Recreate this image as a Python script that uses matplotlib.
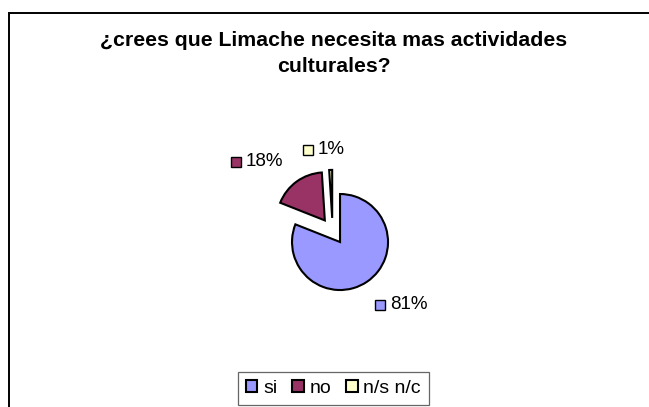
import math

import matplotlib
matplotlib.use("Agg")
from matplotlib import pyplot as plt
from matplotlib.patches import Rectangle

plt.rcParams['font.family'] = ['Liberation Sans', 'DejaVu Sans']

# data
categories = ['si', 'no', 'n/s n/c']
shares = [81, 18, 1]
label_texts = ['81%', '18%', '1%']
colors = ['#9999FF', '#993366', '#FFFFCC']
title_lines = ['¿crees que Limache necesita mas actividades', 'culturales?']

# layout (pixels, figure is 649x407 at 100 dpi)
W, H = 649, 407
center = (332.6, H - 231.1)
radius = 48
explode_px = 13.2
# offset of each label's key square from the middle of its wedge's arc
label_offsets = [(13, -23), (-61, 20), (-23, 20)]

fig = plt.figure(figsize=(W / 100, H / 100), dpi=100)
ax = fig.add_axes([0, 0, 1, 1])

# chart border, running off the right and bottom edges
ax.add_patch(Rectangle((9, -20), W + 20, H - 13 + 20, fill=False,
                       edgecolor='black', linewidth=1.4))

wedges, _ = ax.pie(shares, colors=colors, startangle=90, counterclock=False,
                   center=center, radius=radius,
                   explode=[explode_px] * len(shares),
                   wedgeprops=dict(edgecolor='black', linewidth=1.5),
                   frame=True)
ax.set_xlim(0, W)
ax.set_ylim(0, H)
ax.set_axis_off()
ax.set_aspect('auto')

for wedge, text, color, (dx, dy) in zip(wedges, label_texts, colors, label_offsets):
    mid = math.radians((wedge.theta1 + wedge.theta2) / 2)
    cx, cy = wedge.center
    kx = cx + wedge.r * math.cos(mid) + dx
    ky = cy + wedge.r * math.sin(mid) + dy
    ax.plot(kx, ky, marker='s', markersize=7.5, markerfacecolor=color,
            markeredgecolor='black', markeredgewidth=1.0)
    ax.text(kx + 10, ky, text, ha='left', va='center', fontsize=13.5)

fig.text(333.8 / W, 1 - 45.7 / H, title_lines[0], ha='center', va='baseline',
         fontsize=15.3, fontweight='bold')
fig.text(333.8 / W, 1 - 72.5 / H, title_lines[1], ha='center', va='baseline',
         fontsize=15.3, fontweight='bold')

leg = fig.legend(wedges, categories, loc='upper left',
                 bbox_to_anchor=(238 / W, 1 - 372 / H), ncol=3,
                 fontsize=14, frameon=True, fancybox=False, shadow=False,
                 handlelength=0.6, handleheight=0.6, handletextpad=0.3,
                 columnspacing=0.75, borderpad=0.4, borderaxespad=0)
leg.get_frame().set_edgecolor('#404040')
leg.get_frame().set_linewidth(0.9)

fig.savefig('out.png', dpi=100)
